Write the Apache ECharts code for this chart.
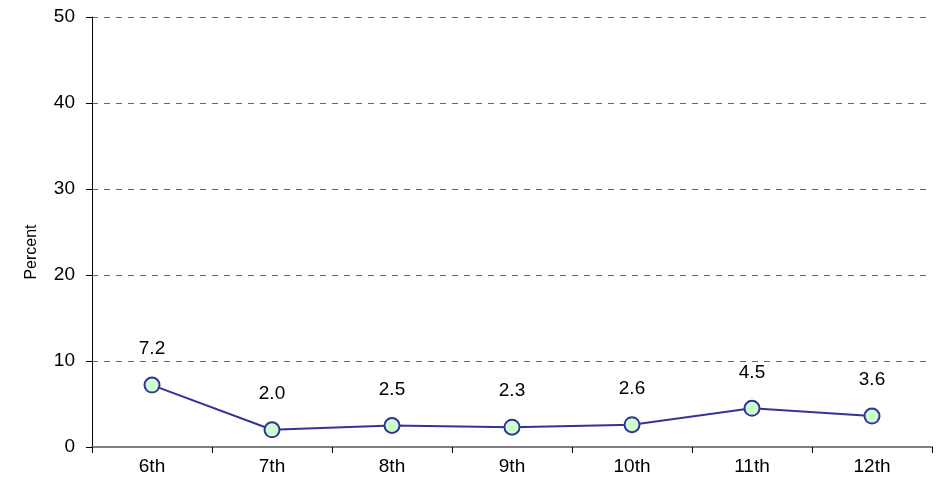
<!DOCTYPE html>
<html><head><meta charset="utf-8">
<script src="https://cdn.jsdelivr.net/npm/echarts@6/dist/echarts.min.js"></script>
<style>html,body{margin:0;padding:0;background:#fff}#c{width:938px;height:490px}</style>
</head><body><div id="c"></div>
<script>
const categories = ['6th','7th','8th','9th','10th','11th','12th'];
const values = [7.2, 2.0, 2.5, 2.3, 2.6, 4.5, 3.6];
const yTicks = [0, 10, 20, 30, 40, 50];

const chart = echarts.init(document.getElementById('c'), null, {renderer:'canvas'});
const font = '"Liberation Sans", Arial, sans-serif';
chart.setOption({
  animation: false,
  grid: {left: 92, right: 6, top: 17, bottom: 43},
  xAxis: {
    type: 'category', data: categories, boundaryGap: true,
    axisLine: {lineStyle: {color: '#808080', width: 2}},
    axisTick: {show: true, length: 6, lineStyle: {color: '#000', width: 1}},
    axisLabel: {color: '#000', fontSize: 19, fontFamily: font, margin: 10}
  },
  yAxis: {
    type: 'value', min: yTicks[0], max: yTicks[yTicks.length-1], interval: 10,
    name: 'Percent', nameLocation: 'middle', nameGap: 52, nameRotate: 90,
    nameTextStyle: {color: '#000', fontSize: 16, fontFamily: font, padding: [0, 0, 0, -40]},
    axisLine: {show: true, lineStyle: {color: '#000', width: 1}},
    axisTick: {show: true, length: 6, lineStyle: {color: '#000'}},
    axisLabel: {color: '#000', fontSize: 19, fontFamily: font, margin: 17},
    splitLine: {show: true, lineStyle: {color: '#666', type: [6, 6], width: 1}}
  },
  series: [{
    type: 'line', data: values,
    symbol: 'circle', symbolSize: 15,
    lineStyle: {color: '#333399', width: 2},
    itemStyle: {color: '#ccffcc', borderColor: '#333399', borderWidth: 2},
    label: {show: true, position: 'top', distance: 18, color: '#000', fontSize: 19, fontFamily: font,
            formatter: p => p.value.toFixed(1)}
  }]
});
</script></body></html>
